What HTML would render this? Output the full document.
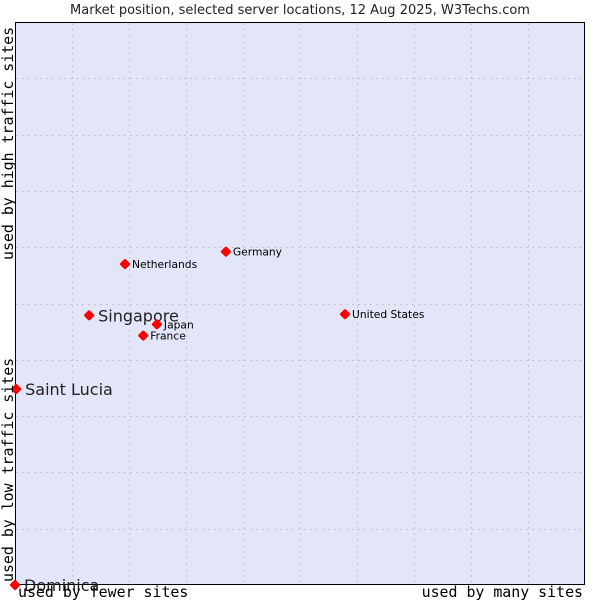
<!DOCTYPE html>
<html><head><meta charset="utf-8"><style>
body{margin:0;background:#fff;width:600px;height:600px;overflow:hidden}
svg{font-family:"DejaVu Sans",sans-serif}
</style></head><body>
<svg width="600" height="600">
<text x="300" y="14" font-size="13" text-anchor="middle" fill="#222">Market position, selected server locations, 12 Aug 2025, W3Techs.com</text>
<rect x="15.5" y="22.5" width="569" height="562" fill="#e3e5f8" stroke="#000"/>
<g id="grid"></g>
<g id="pts"></g>
<text x="18" y="597" font-family="DejaVu Sans Mono,monospace" font-size="14.9">used by fewer sites</text>
<text x="583" y="597" font-family="DejaVu Sans Mono,monospace" font-size="14.9" text-anchor="end">used by many sites</text>
<text transform="translate(13,582) rotate(-90)" font-family="DejaVu Sans Mono,monospace" font-size="14.9">used by low traffic sites</text>
<text transform="translate(13,260) rotate(-90)" font-family="DejaVu Sans Mono,monospace" font-size="14.9">used by high traffic sites</text>
</svg>
<script>
const names=["Dominica","Saint Lucia","Singapore","Netherlands","Germany","United States","Japan","France"];
const xVals=[0,0.2,13,19.3,37,57.9,24.9,22.5];
const yVals=[0,34.8,47.9,57,59.2,48.1,46.3,44.3];
const big=[true,true,true,false,false,false,false,false];
const L=15,R=585,T=22,B=585;
const xs=v=>L+v/100*(R-L), ys=v=>B-v/100*(B-T);
const NS="http://www.w3.org/2000/svg";
const g=document.getElementById('grid'),p=document.getElementById('pts');
for(let i=1;i<10;i++){
 let a=document.createElementNS(NS,'line');
 
 
 let x=Math.round(xs(i*10))+0.5;
 a.setAttribute('x1',x);a.setAttribute('x2',x);a.setAttribute('y1',T+1);a.setAttribute('y2',B);
 a.setAttribute('stroke','#c4c4c8');a.setAttribute('stroke-dasharray','2,4');g.appendChild(a);
 let b=document.createElementNS(NS,'line');
 
 
 let y=Math.round(ys(i*10))+0.5;
 b.setAttribute('x1',L+1);b.setAttribute('x2',R);b.setAttribute('y1',y);b.setAttribute('y2',y);
 b.setAttribute('stroke','#c4c4c8');b.setAttribute('stroke-dasharray','2,4');g.appendChild(b);
}
names.forEach((n,i)=>{
 const x=xs(xVals[i]),y=ys(yVals[i]);
 const d=document.createElementNS(NS,'rect');
 
 
 d.setAttribute('x',x-4);d.setAttribute('y',y-4);d.setAttribute('width',8);d.setAttribute('height',8);
 d.setAttribute('rx',1.5);
 d.setAttribute('fill','#f00');d.setAttribute('transform',`rotate(45 ${x} ${y})`);p.appendChild(d);
 const t=document.createElementNS(NS,'text');
 
 
 t.setAttribute('x',x+(big[i]?9:7));t.setAttribute('y',y+(big[i]?6:4));
 t.setAttribute('font-size',big[i]?16:10.7);t.setAttribute('fill',big[i]?'#222':'#000');
 t.textContent=n;p.appendChild(t);
});
</script>
</body></html>
